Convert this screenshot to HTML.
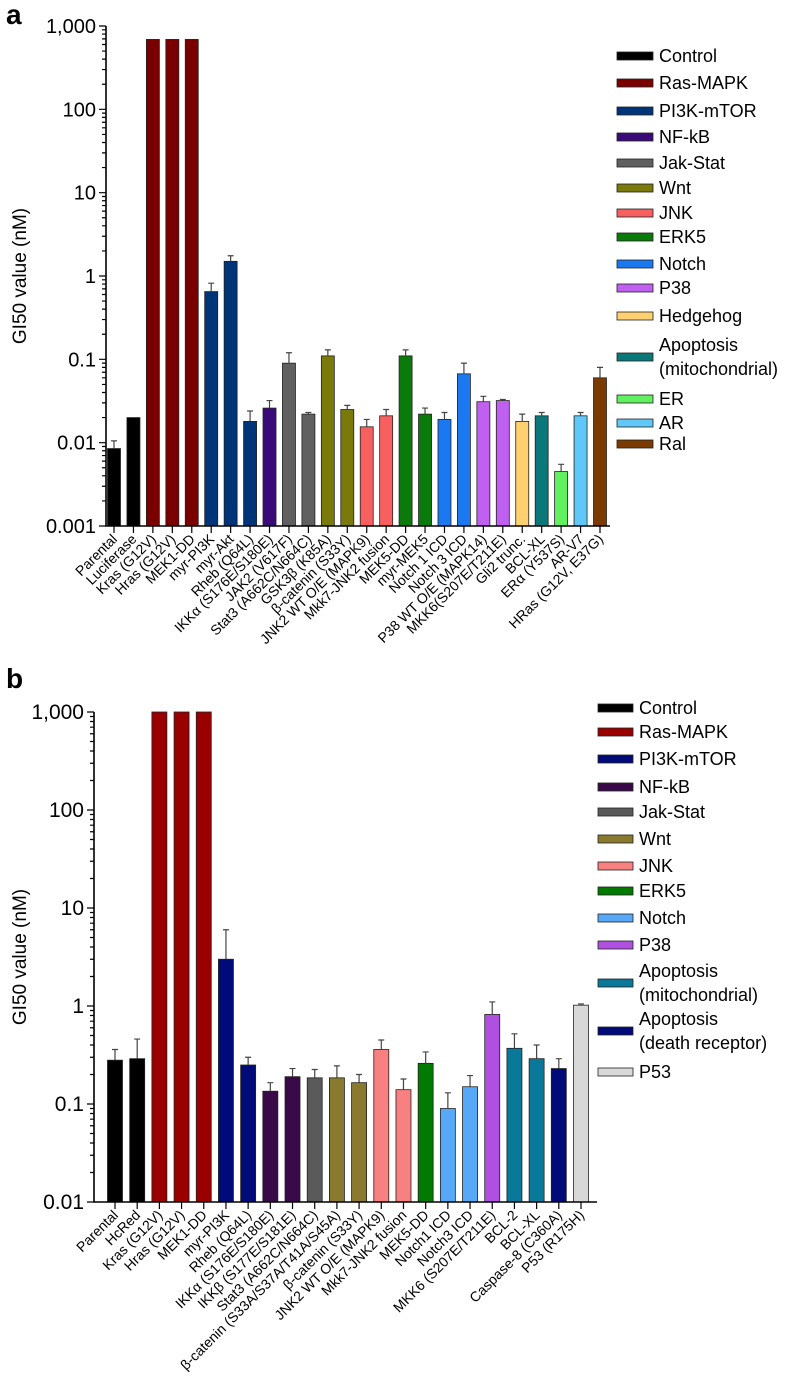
<!DOCTYPE html>
<html><head><meta charset="utf-8"><style>
body{margin:0;background:#fff;}
svg{display:block;font-family:"Liberation Sans",sans-serif;}
</style></head><body>
<svg id="fig" width="788" height="1388" viewBox="0 0 788 1388"></svg>
<script>
const aCategories=["Parental","Luciferase","Kras (G12V)","Hras (G12V)","MEK1-DD","myr-PI3K","myr-Akt","Rheb (Q64L)","IKKα (S176E/S180E)","JAK2 (V617F)","Stat3 (A662C/N664C)","GSK3β (K85A)","β-catenin (S33Y)","JNK2 WT O/E (MAPK9)","Mkk7-JNK2 fusion","MEK5-DD","myr-MEK5","Notch 1 ICD","Notch 3 ICD","P38 WT O/E (MAPK14)","MKK6(S207E/T211E)","Gli2 trunc.","BCL-XL","ERα (Y537S)","AR-V7","HRas (G12V, E37G)"];
const aValues=[0.0085,0.02,690,690,690,0.65,1.5,0.018,0.026,0.09,0.022,0.11,0.025,0.0155,0.021,0.11,0.022,0.019,0.067,0.031,0.032,0.018,0.021,0.0045,0.021,0.06];
const aErrors=[0.0105,0,0,0,0,0.82,1.75,0.024,0.032,0.12,0.023,0.13,0.028,0.019,0.025,0.13,0.026,0.023,0.09,0.036,0.033,0.022,0.023,0.0055,0.023,0.08];
const aGroups=[0,0,1,1,1,2,2,2,3,4,4,5,5,6,6,7,7,8,8,9,9,10,11,12,13,14];
const aLegend=["Control","Ras-MAPK","PI3K-mTOR","NF-kB","Jak-Stat","Wnt","JNK","ERK5","Notch","P38","Hedgehog","Apoptosis|(mitochondrial)","ER","AR","Ral"];
const aColors=["#000000","#7a0000","#003478","#3a0a78","#606060","#7a7a0a","#f86060","#0a7a0a","#1a78f0","#c060f0","#ffd070","#0a7878","#60f060","#60c8f8","#7a3a00"];
const aTicks=["0.001","0.01","0.1","1","10","100","1,000"];

const bCategories=["Parental","HcRed","Kras (G12V)","Hras (G12V)","MEK1-DD","myr-PI3K","Rheb (Q64L)","IKKα (S176E/S180E)","IKKβ (S177E/S181E)","Stat3 (A662C/N664C)","β-catenin (S33A/S37A/T41A/S45A)","β-catenin (S33Y)","JNK2 WT O/E (MAPK9)","Mkk7-JNK2 fusion","MEK5-DD","Notch1 ICD","Notch3 ICD","MKK6 (S207E/T211E)","BCL-2","BCL-XL","Caspase-8 (C360A)","P53 (R175H)"];
const bValues=[0.28,0.29,1000,1000,1000,3.0,0.25,0.135,0.19,0.185,0.185,0.165,0.36,0.14,0.26,0.09,0.15,0.82,0.37,0.29,0.23,1.02];
const bErrors=[0.36,0.46,0,0,0,6.0,0.30,0.165,0.23,0.225,0.245,0.20,0.45,0.18,0.34,0.13,0.195,1.1,0.52,0.40,0.29,1.05];
const bGroups=[0,0,1,1,1,2,2,3,3,4,5,5,6,6,7,8,8,9,10,10,11,12];
const bLegend=["Control","Ras-MAPK","PI3K-mTOR","NF-kB","Jak-Stat","Wnt","JNK","ERK5","Notch","P38","Apoptosis|(mitochondrial)","Apoptosis|(death receptor)","P53"];
const bColors=["#000000","#9a0000","#000a78","#3a0a48","#5a5a5a","#8a7a30","#f88080","#007a00","#58a8f8","#b050e0","#0a7898","#000a78","#d8d8d8"];
const bTicks=["0.01","0.1","1","10","100","1,000"];

const svg=document.getElementById('fig');
const NS="http://www.w3.org/2000/svg";
function mk(tag,attrs,parent,text){const e=document.createElementNS(NS,tag);for(const k in attrs)e.setAttribute(k,attrs[k]);if(text!==undefined)e.textContent=text;(parent||svg).appendChild(e);return e;}

function panel(cfg){
  const g=mk('g',{});
  
  
  const {x0,x1,yTop,yBot,minExp,maxExp,firstX,lastX,barW}=cfg;
  const dec=(yBot-yTop)/(maxExp-minExp);
  const y=v=>yBot-(Math.log10(v)-minExp)*dec;
  const n=cfg.cats.length;
  const xs=i=>firstX+(lastX-firstX)*i/(n-1);
  const letter=mk('text',{x:6,y:cfg.letterY,'font-size':28,'font-weight':'bold'},g,cfg.letter);
  
  
  cfg.vals.forEach((v,i)=>{
    const top=y(v);
    const r=mk('rect',{x:xs(i)-barW/2,y:top,width:barW,height:yBot-top,fill:cfg.colors[cfg.groups[i]],stroke:'#222','stroke-width':0.8},g);
    
    
    const e=cfg.errs[i];
    if(e>v){
      const ey=y(e);
      const l=mk('path',{d:`M${xs(i)},${top}V${ey}M${xs(i)-3},${ey}H${xs(i)+3}`,stroke:'#444','stroke-width':1.2,fill:'none'},g);
      
      
    }
  });
  const ax=mk('path',{d:`M${x0},${yTop}V${yBot}H${x1}`,stroke:'#000','stroke-width':1.6,fill:'none'},g);
  
  
  let d='';
  for(let e=minExp;e<=maxExp;e++){
    d+=`M${x0-7},${y(Math.pow(10,e))}H${x0}`;
    if(e<maxExp)for(let m=2;m<10;m++){d+=`M${x0-4},${y(m*Math.pow(10,e))}H${x0}`;}
  }
  for(let i=0;i<n;i++)d+=`M${xs(i)},${yBot}V${yBot+7}`;
  mk('path',{d:d,stroke:'#000','stroke-width':1.2,fill:'none'},g);
  cfg.ticks.forEach((t,k)=>{
    const tt=mk('text',{x:x0-10,y:y(Math.pow(10,minExp+k))+7,'font-size':cfg.tickSize,'text-anchor':'end'},g,t);
    
    
  });
  const cy=(yTop+yBot)/2;
  const yt=mk('text',{x:26,y:cy,'font-size':19,'text-anchor':'middle',transform:`rotate(-90 26 ${cy})`},g,'GI50 value (nM)');
  
  
  cfg.cats.forEach((c,i)=>{
    const lx=xs(i)+4,ly=yBot+14;
    const t=mk('text',{x:lx,y:ly,'font-size':cfg.labelSize,'text-anchor':'end',transform:`rotate(-45 ${lx} ${ly})`},g,c);
    
    
  });
  cfg.legend.forEach((L,k)=>{
    const ly=cfg.legendY[k];
    const s=mk('rect',{x:cfg.legX,y:ly-4,width:cfg.legW,height:8,fill:cfg.colors[k],stroke:'#222','stroke-width':0.8},g);
    
    
    const parts=L.split('|');
    parts.forEach((p,j)=>{
      const t=mk('text',{x:cfg.legX+cfg.legW+6,y:ly+6+(j-(parts.length-1)/2)*24,'font-size':18},g,p);
      
      
    });
  });
}
panel({name:'panel-a',letter:'a',letterY:24,cats:aCategories,vals:aValues,errs:aErrors,groups:aGroups,colors:aColors,legend:aLegend,ticks:aTicks,
  x0:106,x1:610,yTop:26,yBot:526,minExp:-3,maxExp:3,firstX:114,lastX:600,barW:13,labelSize:14,tickSize:20,
  legX:617,legW:36,legendY:[56,83,111,137,163,188,213,237,264,288,316,357,399,423,444]});
panel({name:'panel-b',letter:'b',letterY:688,cats:bCategories,vals:bValues,errs:bErrors,groups:bGroups,colors:bColors,legend:bLegend,ticks:bTicks,
  x0:94,x1:597,yTop:712,yBot:1202,minExp:-2,maxExp:3,firstX:115,lastX:581,barW:15,labelSize:14,tickSize:21,
  legX:598,legW:35,legendY:[708,732,759,787,812,839,866,891,918,945,983,1031,1072]});
</script>
</body></html>
